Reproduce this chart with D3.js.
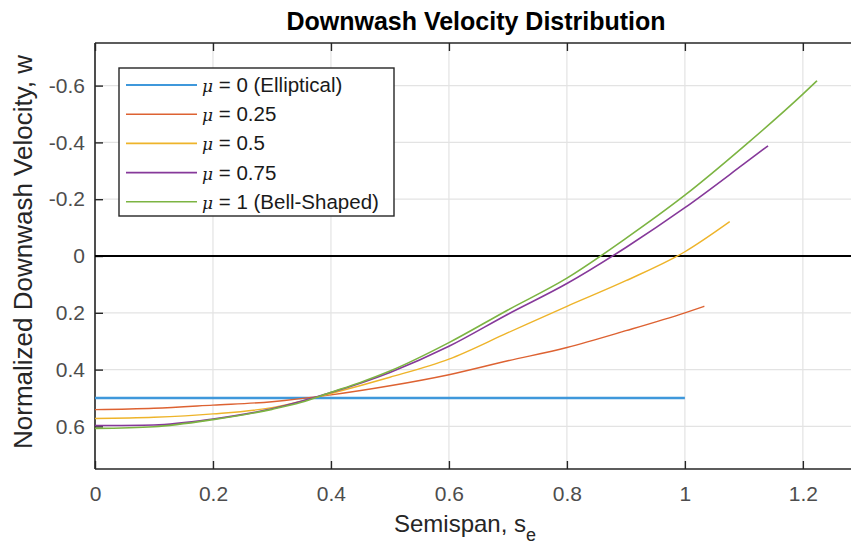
<!DOCTYPE html>
<html>
<head>
<meta charset="utf-8">
<script src="https://cdn.jsdelivr.net/npm/d3@7"></script>
<style>
  body { margin: 0; background: #fff; }
  text { font-family: "Liberation Sans", Arial, Helvetica, sans-serif; }
</style>
</head>
<body>
<svg id="chart" width="851" height="551"></svg>
<script>
// series data (semispan s_e, normalized downwash w)
var sEll = [0, 0.25, 0.5, 0.75, 1.0];
var wEll = [0.5, 0.5, 0.5, 0.5, 0.5];

var s025 = [0, 0.1, 0.2, 0.3, 0.4, 0.5, 0.6, 0.7, 0.8, 0.9, 1.0, 1.033];
var w025 = [0.541, 0.536, 0.525, 0.513, 0.489, 0.457, 0.418, 0.369, 0.322, 0.263, 0.2, 0.177];

var s05 = [0, 0.1, 0.2, 0.3, 0.4, 0.5, 0.6, 0.7, 0.8, 0.9, 1.0, 1.076];
var w05 = [0.572, 0.568, 0.556, 0.534, 0.484, 0.427, 0.363, 0.27, 0.177, 0.087, -0.015, -0.121];

var s075 = [0, 0.1, 0.2, 0.3, 0.4, 0.5, 0.6, 0.7, 0.8, 0.9, 1.0, 1.1, 1.141];
var w075 = [0.597, 0.595, 0.574, 0.538, 0.481, 0.41, 0.318, 0.205, 0.097, -0.03, -0.17, -0.324, -0.388];

var sBell = [0, 0.1, 0.2, 0.3, 0.35, 0.4, 0.45, 0.5, 0.6, 0.7, 0.8, 0.9, 1.0, 1.1, 1.2, 1.224];
var wBell = [0.607, 0.601, 0.576, 0.54, 0.515, 0.48, 0.445, 0.405, 0.305, 0.19, 0.078, -0.062, -0.214, -0.386, -0.57, -0.617];

var labels = ["0 (Elliptical)", "0.25", "0.5", "0.75", "1 (Bell-Shaped)"];
var xTicks = [0, 0.2, 0.4, 0.6, 0.8, 1.0, 1.2];
var yTicks = [-0.6, -0.4, -0.2, 0, 0.2, 0.4, 0.6];

var colors = ["#3f98db", "#dd6232", "#eeb42a", "#86399a", "#7cb442"];

var series = [
  { name: labels[0], pts: d3.zip(sEll, wEll), width: 2.6 },
  { name: labels[1], pts: d3.zip(s025, w025), width: 1.4 },
  { name: labels[2], pts: d3.zip(s05, w05), width: 1.4 },
  { name: labels[3], pts: d3.zip(s075, w075), width: 1.6 },
  { name: labels[4], pts: d3.zip(sBell, wBell), width: 1.6 }
];

var svg = d3.select("#chart");
var pLeft = 95, pRight = 853, pTop = 43, pBottom = 469;

var x = d3.scaleLinear().domain([0, 1.285]).range([pLeft, pRight]);
// y is reversed: negative downwash at the top
var y = d3.scaleLinear().domain([-0.75, 0.75]).range([pTop, pBottom]);

var axisColor = "#262626";
var fmt = function (d) { return String(+d.toFixed(2)); };

// grid
svg.append("g")
  .selectAll("line")
  .data(xTicks)
  .enter().append("line")
  .attr("x1", function (d) { return x(d); })
  .attr("x2", function (d) { return x(d); })
  .attr("y1", pTop).attr("y2", pBottom)
  .attr("stroke", "#e3e3e3").attr("stroke-width", 1.2);

svg.append("g")
  .selectAll("line")
  .data(yTicks)
  .enter().append("line")
  .attr("x1", pLeft).attr("x2", pRight)
  .attr("y1", function (d) { return y(d); })
  .attr("y2", function (d) { return y(d); })
  .attr("stroke", "#e3e3e3").attr("stroke-width", 1.2);

// axes
var xAxis = svg.append("g")
  .attr("transform", "translate(0," + pBottom + ")")
  .call(d3.axisBottom(x).tickValues(xTicks).tickSize(-8).tickPadding(17).tickFormat(fmt));

var xTop = svg.append("g")
  .attr("transform", "translate(0," + pTop + ")")
  .call(d3.axisTop(x).tickValues(xTicks).tickSize(-8).tickFormat(""));

var yAxis = svg.append("g")
  .attr("transform", "translate(" + pLeft + ",0)")
  .call(d3.axisLeft(y).tickValues(yTicks).tickSize(-8).tickPadding(10).tickFormat(fmt));

[xAxis, xTop, yAxis].forEach(function (g) {
  g.select(".domain").attr("stroke", axisColor).attr("stroke-width", 1.6);
  g.selectAll(".tick line").attr("stroke", axisColor).attr("stroke-width", 1.4);
  g.selectAll(".tick text").attr("fill", "#4d4d4d").style("font-size", "21px")
    .style("font-family", "'Liberation Sans', Arial, sans-serif");
});
xAxis.select(".domain").attr("d", "M" + pLeft + ",0H" + pRight);
xTop.select(".domain").attr("d", "M" + pLeft + ",0H" + pRight);
yAxis.select(".domain").attr("d", "M0," + pTop + "V" + pBottom);

// zero line
svg.append("line")
  .attr("x1", pLeft).attr("x2", pRight)
  .attr("y1", y(0)).attr("y2", y(0))
  .attr("stroke", "#000").attr("stroke-width", 2);

// curves
var line = d3.line()
  .x(function (d) { return x(d[0]); })
  .y(function (d) { return y(d[1]); })
  .curve(d3.curveMonotoneX);

svg.append("g")
  .selectAll("path")
  .data(series)
  .enter().append("path")
  .attr("d", function (d) { return line(d.pts); })
  .attr("fill", "none")
  .attr("stroke", function (d, i) { return colors[i]; })
  .attr("stroke-width", function (d) { return d.width; });

// legend
var lg = svg.append("g");
lg.append("rect")
  .attr("x", 119).attr("y", 68).attr("width", 275).attr("height", 148)
  .attr("fill", "#fff").attr("stroke", axisColor).attr("stroke-width", 1.4);

var rows = lg.selectAll("g.row")
  .data(series)
  .enter().append("g")
  .attr("transform", function (d, i) { return "translate(0," + (85 + i * 29.2) + ")"; });

rows.append("line")
  .attr("x1", 126).attr("x2", 197).attr("y1", 0).attr("y2", 0)
  .attr("stroke", function (d, i) { return colors[i]; })
  .attr("stroke-width", function (d, i) { return i === 0 ? 2 : 1.6; });

var rt = rows.append("text")
  .attr("x", 202).attr("y", 7)
  .attr("fill", "#1a1a1a")
  .style("font-size", "20.5px");
rt.append("tspan").style("font-style", "italic").style("font-family", "'DejaVu Serif', serif")
  .style("font-size", "17px").text("\u03bc");
rt.append("tspan").text(function (d) { return " = " + d.name; });

// title and axis labels
svg.append("text")
  .attr("x", 476).attr("y", 30)
  .attr("text-anchor", "middle")
  .style("font-size", "25px").style("font-weight", "bold")
  .attr("fill", "#000")
  .text("Downwash Velocity Distribution");

var xl = svg.append("text")
  .attr("x", 465).attr("y", 532)
  .attr("text-anchor", "middle")
  .attr("fill", "#262626")
  .style("font-size", "24px");
xl.append("tspan").text("Semispan, s");
xl.append("tspan").attr("dy", 9).style("font-size", "18px").text("e");

svg.append("text")
  .attr("transform", "translate(32," + 252 + ") rotate(-90)")
  .attr("text-anchor", "middle")
  .attr("fill", "#262626")
  .style("font-size", "26px")
  .text("Normalized Downwash Velocity, w");
</script>
</body>
</html>
